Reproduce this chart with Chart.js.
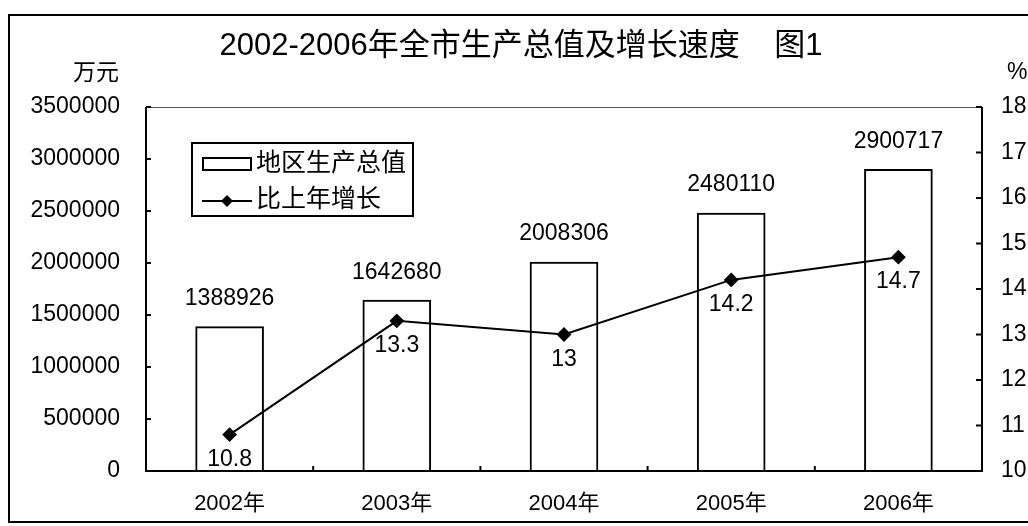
<!DOCTYPE html>
<html>
<head>
<meta charset="utf-8">
<script src="https://cdn.jsdelivr.net/npm/chart.js@4"></script>
<style>
  html, body { margin: 0; padding: 0; background: #fff; }
  #wrap { width: 1028px; height: 526px; }
</style>
</head>
<body>
<div id="wrap"><canvas id="chart" width="1028" height="526"></canvas></div>
<script>
var years = ["2002年", "2003年", "2004年", "2005年", "2006年"];
var gdpValues = [1388926, 1642680, 2008306, 2480110, 2900717];
var growthRates = [10.8, 13.3, 13, 14.2, 14.7];
var titleText = "2002-2006年全市生产总值及增长速度    图1";
var legendLabels = ["地区生产总值", "比上年增长"];

var fontFamily = '"Liberation Sans", "Noto Sans CJK SC", sans-serif';

// draws labels, frame, title, legend and inner tick marks
var decorPlugin = {
  id: "decor",
  afterDatasetsDraw: function (chart) {
    var ctx = chart.ctx;
    ctx.save();
    ctx.fillStyle = "#000";
    ctx.font = "23px " + fontFamily;
    ctx.textAlign = "center";
    ctx.textBaseline = "middle";
    chart.getDatasetMeta(1).data.forEach(function (bar, i) {
      ctx.fillText(String(gdpValues[i]), bar.x, bar.y - 28);
    });
    chart.getDatasetMeta(0).data.forEach(function (pt, i) {
      ctx.fillText(String(growthRates[i]), pt.x, pt.y + 25);
    });
    ctx.restore();
  },
  afterDraw: function (chart) {
    var ctx = chart.ctx;
    var a = chart.chartArea;
    var sx = chart.scales.x, sy = chart.scales.y, sy1 = chart.scales.y1;
    ctx.save();
    ctx.strokeStyle = "#000";
    ctx.fillStyle = "#000";

    // outer frame
    ctx.lineWidth = 2;
    ctx.strokeRect(9, 15, 1040, 507);

    // plot frame
    ctx.lineWidth = 2;
    ctx.beginPath();
    ctx.moveTo(a.left, a.top);
    ctx.lineTo(a.left, a.bottom);
    ctx.lineTo(a.right, a.bottom);
    ctx.lineTo(a.right, a.top);
    ctx.stroke();
    ctx.lineWidth = 1;
    ctx.strokeStyle = "#555";
    ctx.beginPath();
    ctx.moveTo(a.left, a.top + 0.5);
    ctx.lineTo(a.right, a.top + 0.5);
    ctx.stroke();
    ctx.strokeStyle = "#000";

    // inner tick marks
    ctx.lineWidth = 2;
    ctx.beginPath();
    sy.ticks.forEach(function (t) {
      var y = sy.getPixelForValue(t.value);
      ctx.moveTo(a.left, y);
      ctx.lineTo(a.left + 5, y);
    });
    sy1.ticks.forEach(function (t) {
      var y = sy1.getPixelForValue(t.value);
      ctx.moveTo(a.right, y);
      ctx.lineTo(a.right - 6, y);
    });
    for (var i = 1; i < years.length; i++) {
      var x = (sx.getPixelForValue(i - 1) + sx.getPixelForValue(i)) / 2;
      ctx.moveTo(x, a.bottom);
      ctx.lineTo(x, a.bottom - 5);
    }
    ctx.stroke();

    // title and units
    ctx.textBaseline = "middle";
    ctx.textAlign = "center";
    ctx.font = "31px " + fontFamily;
    ctx.fillText(titleText, 521, 46);
    ctx.font = "23px " + fontFamily;
    ctx.textAlign = "right";
    ctx.fillText("万元", 119, 74);
    ctx.textAlign = "left";
    ctx.fillText("%", 1007, 73);

    // legend
    var lx = 192, ly = 143, lw = 221, lh = 73;
    ctx.fillStyle = "#fff";
    ctx.fillRect(lx, ly, lw, lh);
    ctx.lineWidth = 2;
    ctx.strokeRect(lx, ly, lw, lh);
    ctx.strokeRect(203, 158, 48, 12);
    ctx.beginPath();
    ctx.moveTo(202, 201);
    ctx.lineTo(252, 201);
    ctx.stroke();
    ctx.fillStyle = "#000";
    ctx.beginPath();
    ctx.moveTo(227, 195);
    ctx.lineTo(233, 201);
    ctx.lineTo(227, 207);
    ctx.lineTo(221, 201);
    ctx.closePath();
    ctx.fill();
    ctx.font = "25px " + fontFamily;
    ctx.textAlign = "left";
    ctx.fillText(legendLabels[0], 256, 164);
    ctx.fillText(legendLabels[1], 256, 200);
    ctx.restore();
  }
};

var data = {
  labels: years,
  datasets: [
    {
      type: "line",
      label: legendLabels[1],
      data: growthRates,
      yAxisID: "y1",
      borderColor: "#000",
      borderWidth: 2,
      backgroundColor: "#000",
      pointStyle: "rectRot",
      pointRadius: 6,
      pointBackgroundColor: "#000",
      pointBorderColor: "#000",
      tension: 0,
      order: 0
    },
    {
      type: "bar",
      label: legendLabels[0],
      data: gdpValues,
      yAxisID: "y",
      backgroundColor: "#fff",
      borderColor: "#000",
      borderWidth: 2,
      barThickness: 68,
      order: 1
    }
  ]
};

var config = {
  data: data,
  options: {
    responsive: false,
    animation: false,
    layout: { padding: { top: 107, left: 0, right: 0, bottom: 0 } },
    plugins: {
      legend: { display: false },
      title: { display: false },
      tooltip: { enabled: false }
    },
    scales: {
      x: {
        grid: { display: false, drawTicks: false },
        border: { display: false },
        ticks: {
          color: "#000",
          padding: 20,
          font: { size: 22, family: fontFamily }
        },
        afterFit: function (s) { s.height = 55; }
      },
      y: {
        position: "left",
        min: 0,
        max: 3500000,
        grid: { display: false, drawTicks: false },
        border: { display: false },
        ticks: {
          stepSize: 500000,
          color: "#000",
          padding: 26,
          font: { size: 23, family: fontFamily },
          callback: function (v) { return String(v); }
        },
        afterFit: function (s) { s.width = 146; }
      },
      y1: {
        position: "right",
        min: 10,
        max: 18,
        grid: { display: false, drawTicks: false },
        border: { display: false },
        ticks: {
          stepSize: 1,
          color: "#000",
          padding: 19,
          font: { size: 23, family: fontFamily }
        },
        afterFit: function (s) { s.width = 46; }
      }
    }
  },
  plugins: [decorPlugin]
};

var myChart = new Chart(document.getElementById("chart"), config);
</script>
</body>
</html>
